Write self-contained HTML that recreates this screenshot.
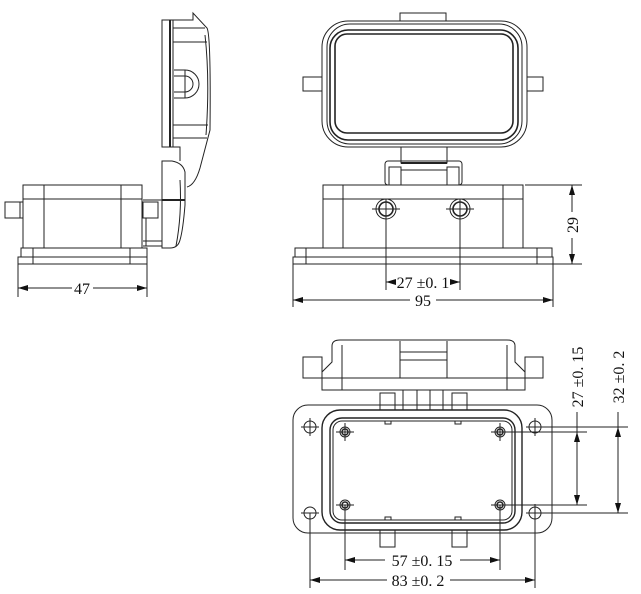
<!DOCTYPE html>
<html><head><meta charset="utf-8"><style>
html,body{margin:0;padding:0;background:#fff;width:641px;height:594px;overflow:hidden}
svg{display:block}
text{font-family:"Liberation Serif","Noto Serif CJK SC",serif;font-size:16px;fill:#111}
</style></head><body>
<svg width="641" height="594" viewBox="0 0 641 594" xmlns="http://www.w3.org/2000/svg">
<defs>
<marker id="a" viewBox="0 0 10 6" refX="10" refY="3" markerWidth="10" markerHeight="6" orient="auto-start-reverse" markerUnits="userSpaceOnUse"><path d="M0,0L10,3L0,6z" fill="#111"/></marker>
</defs>
<g fill="none" stroke="#222" stroke-width="1">
<!-- SIDE VIEW -->
<rect x="23" y="185" width="119" height="63"/>
<line x1="23" y1="199" x2="142" y2="199"/>
<line x1="44" y1="185" x2="44" y2="248"/>
<line x1="121" y1="185" x2="121" y2="248"/>
<rect x="5" y="202" width="18" height="16"/>
<line x1="20" y1="202" x2="20" y2="218"/>
<rect x="21" y="248" width="126" height="9"/>
<rect x="18" y="257" width="129" height="7"/>
<line x1="33" y1="248" x2="33" y2="264"/>
<line x1="130" y1="248" x2="130" y2="264"/>
<rect x="143" y="202" width="15" height="16"/>
<line x1="143" y1="200" x2="162" y2="200"/>
<line x1="143" y1="241" x2="162" y2="241"/>
<line x1="143" y1="246" x2="162" y2="246"/>
<line x1="146" y1="218" x2="146" y2="246"/>
<!-- hinge piece -->
<path d="M162,161 L172,161 Q183,163 185,172 L185,205 Q183,230 180,240 Q178,248 170,248 L162,248 Z"/>
<line x1="162" y1="200" x2="185" y2="200" stroke-width="2"/>
<path d="M180,180 Q182,215 176,246"/>
<!-- cover -->
<rect x="162" y="20" width="11" height="127"/>
<line x1="170" y1="20" x2="170" y2="147" stroke-width="2"/>
<path d="M173,20 L193,20 L193,13 L207,28 Q211,35 210,130 L200,168 Q195,185 187,187"/>
<path d="M173,28 L205,28 M173,42 L207,42 M173,125 L208,125 M173,138 L207,138"/>
<path d="M205,35 Q210,80 206,135"/>
<path d="M173,147 L180,147 L180,161"/>
<path d="M174,70 L185,70 A14,14 0 0 1 185,98 L174,98"/>
<path d="M174,76 L185,76 A8,8 0 0 1 185,92 L174,92"/>
<line x1="185" y1="70" x2="185" y2="98"/>
<!-- dims 47 -->
<line x1="18" y1="264" x2="18" y2="297"/>
<line x1="147" y1="264" x2="147" y2="297"/>
<line x1="18" y1="288" x2="72" y2="288" marker-start="url(#a)"/>
<line x1="93" y1="288" x2="147" y2="288" marker-end="url(#a)"/>

<!-- FRONT VIEW -->
<rect x="400" y="13" width="46" height="8"/>
<rect x="322" y="21" width="205" height="126" rx="26"/>
<rect x="327" y="24" width="195" height="120" rx="23"/>
<rect x="330" y="30" width="188" height="110" rx="18" stroke-width="1.6"/>
<rect x="335" y="34" width="178" height="99" rx="12" stroke-width="1.6"/>
<rect x="303" y="77" width="19" height="14"/>
<rect x="527" y="77" width="16" height="14"/>
<rect x="401" y="147" width="46" height="16"/>
<rect x="385" y="161" width="77" height="24" rx="3"/>
<rect x="389" y="167" width="12" height="18"/>
<rect x="447" y="167" width="12" height="18"/>
<line x1="401" y1="163" x2="447" y2="163" stroke-width="2"/>
<line x1="401" y1="170" x2="447" y2="170"/>
<rect x="323" y="185" width="200" height="63"/>
<line x1="323" y1="199" x2="523" y2="199"/>
<line x1="343" y1="185" x2="343" y2="248"/>
<line x1="503" y1="185" x2="503" y2="248"/>
<circle cx="386" cy="209" r="10"/><circle cx="386" cy="209" r="7" stroke-width="1.6"/>
<circle cx="460" cy="209" r="10"/><circle cx="460" cy="209" r="7" stroke-width="1.6"/>
<line x1="372" y1="209" x2="400" y2="209"/><line x1="446" y1="209" x2="474" y2="209"/>
<rect x="295" y="248" width="257" height="9"/>
<rect x="293" y="257" width="260" height="7"/>
<line x1="306" y1="248" x2="306" y2="264"/>
<line x1="537" y1="248" x2="537" y2="264"/>
<!-- dims front -->
<line x1="386" y1="199" x2="386" y2="290"/>
<line x1="460" y1="199" x2="460" y2="290"/>
<line x1="386" y1="282" x2="393" y2="282" marker-start="url(#a)"/>
<line x1="453" y1="282" x2="460" y2="282" marker-end="url(#a)"/>
<line x1="293" y1="264" x2="293" y2="307"/>
<line x1="553" y1="264" x2="553" y2="307"/>
<line x1="293" y1="300" x2="410" y2="300" marker-start="url(#a)"/>
<line x1="436" y1="300" x2="553" y2="300" marker-end="url(#a)"/>
<line x1="525" y1="185" x2="582" y2="185"/>
<line x1="553" y1="264" x2="582" y2="264"/>
<line x1="572" y1="185" x2="572" y2="212" marker-start="url(#a)"/>
<line x1="572" y1="238" x2="572" y2="264" marker-end="url(#a)"/>

<!-- BOTTOM VIEW -->
<path d="M322,390 L322,372 L332,362 L332,346 Q332,340 340,340 L507,340 Q515,340 515,346 L515,362 L525,372 L525,390 Z"/>
<line x1="322" y1="378" x2="525" y2="378"/>
<line x1="342" y1="345" x2="342" y2="390"/><line x1="507" y1="345" x2="507" y2="390"/>
<line x1="400" y1="341" x2="400" y2="378"/><line x1="447" y1="341" x2="447" y2="378"/>
<line x1="400" y1="352" x2="447" y2="352"/><line x1="400" y1="360" x2="447" y2="360"/>
<rect x="303" y="357" width="19" height="21"/>
<rect x="525" y="357" width="18" height="21"/>
<rect x="380" y="393" width="15" height="17"/>
<rect x="452" y="393" width="15" height="17"/>
<line x1="403" y1="390" x2="403" y2="410"/><line x1="417" y1="390" x2="417" y2="410"/>
<line x1="430" y1="390" x2="430" y2="410"/><line x1="443" y1="390" x2="443" y2="410"/>
<rect x="293" y="405" width="259" height="128" rx="15"/>
<rect x="322" y="410" width="200" height="120" rx="18" stroke-width="1.4"/>
<rect x="330" y="418" width="185" height="105" rx="12" stroke-width="1.4"/>
<rect x="333" y="421" width="179" height="99" rx="9"/>
<rect x="380" y="530" width="15" height="17"/>
<rect x="452" y="530" width="15" height="17"/>
<rect x="385" y="421" width="6" height="3"/><rect x="455" y="421" width="6" height="3"/>
<rect x="385" y="517" width="6" height="3"/><rect x="455" y="517" width="6" height="3"/>
<circle cx="310" cy="427" r="6"/><circle cx="535" cy="427" r="6"/>
<circle cx="310" cy="513" r="6"/><circle cx="535" cy="513" r="6"/>
<circle cx="345" cy="432" r="5"/><circle cx="345" cy="432" r="3" stroke-width="1.5"/>
<circle cx="500" cy="432" r="5"/><circle cx="500" cy="432" r="3" stroke-width="1.5"/>
<circle cx="345" cy="505" r="5"/><circle cx="345" cy="505" r="3" stroke-width="1.5"/>
<circle cx="500" cy="505" r="5"/><circle cx="500" cy="505" r="3" stroke-width="1.5"/>
<path d="M301,427h18M310,418v18M526,427h18M535,418v18M301,513h18M535,504v18M526,513h18"/>
<path d="M336,432h18M345,423v18M491,432h18M500,423v18M336,505h18M491,505h18"/>
<!-- dims bottom -->
<line x1="345" y1="505" x2="345" y2="570"/>
<line x1="500" y1="505" x2="500" y2="570"/>
<line x1="345" y1="560" x2="385" y2="560" marker-start="url(#a)"/>
<line x1="460" y1="560" x2="500" y2="560" marker-end="url(#a)"/>
<line x1="310" y1="513" x2="310" y2="588"/>
<line x1="535" y1="513" x2="535" y2="588"/>
<line x1="310" y1="580" x2="387" y2="580" marker-start="url(#a)"/>
<line x1="450" y1="580" x2="535" y2="580" marker-end="url(#a)"/>
<line x1="500" y1="432" x2="587" y2="432"/>
<line x1="500" y1="505" x2="587" y2="505"/>
<line x1="577" y1="412" x2="577" y2="505" marker-end="url(#a)"/>
<line x1="577" y1="432" x2="577" y2="440" marker-start="url(#a)"/>
<line x1="535" y1="427" x2="628" y2="427"/>
<line x1="535" y1="513" x2="628" y2="513"/>
<line x1="618" y1="412" x2="618" y2="513" marker-end="url(#a)"/>
<line x1="618" y1="427" x2="618" y2="435" marker-start="url(#a)"/>
</g>
<g>
<text x="82" y="294" text-anchor="middle">47</text>
<text x="423" y="288" text-anchor="middle">27 ±0. 1</text>
<text x="423" y="306" text-anchor="middle">95</text>
<text transform="translate(578,225) rotate(-90)" text-anchor="middle">29</text>
<text x="422" y="566" text-anchor="middle">57 ±0. 15</text>
<text x="418" y="586" text-anchor="middle">83 ±0. 2</text>
<text transform="translate(583,377) rotate(-90)" text-anchor="middle">27 ±0. 15</text>
<text transform="translate(624,377) rotate(-90)" text-anchor="middle">32 ±0. 2</text>
</g>
</svg>
</body></html>
